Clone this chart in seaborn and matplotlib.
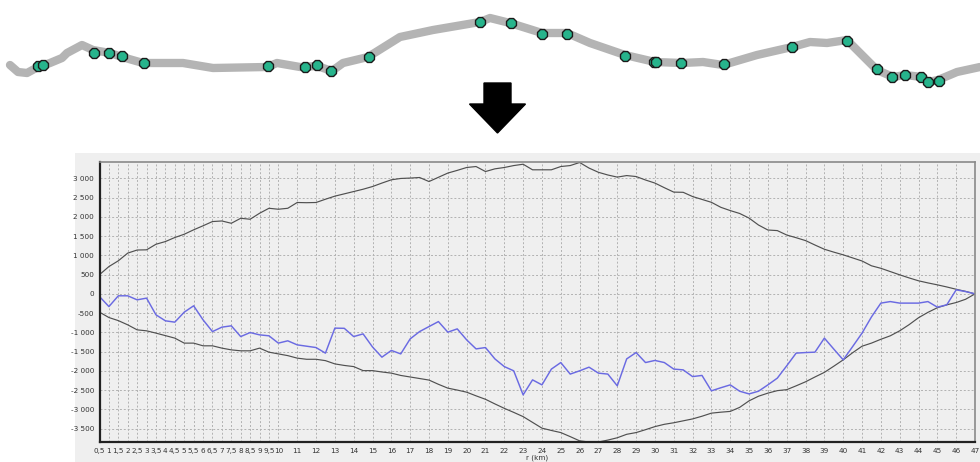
import numpy as np
import pandas as pd
import matplotlib
matplotlib.use("Agg")
import matplotlib.pyplot as plt
from matplotlib.patches import Rectangle, FancyArrow
import seaborn as sns

# ---------------------------------------------------------------- data
# distance along the profile (km)
r_km = [0.5, 1.0, 1.5, 2.0, 2.5, 3.0, 3.5, 4.0, 4.5, 5.0,
        5.5, 6.0, 6.5, 7.0, 7.5, 8.0, 8.5, 9.0, 9.5, 10.0,
        10.5, 11.0, 11.5, 12.0, 12.5, 13.0, 13.5, 14.0, 14.5, 15.0,
        15.5, 16.0, 16.5, 17.0, 17.5, 18.0, 18.5, 19.0, 19.5, 20.0,
        20.5, 21.0, 21.5, 22.0, 22.5, 23.0, 23.5, 24.0, 24.5, 25.0,
        25.5, 26.0, 26.5, 27.0, 27.5, 28.0, 28.5, 29.0, 29.5, 30.0,
        30.5, 31.0, 31.5, 32.0, 32.5, 33.0, 33.5, 34.0, 34.5, 35.0,
        35.5, 36.0, 36.5, 37.0, 37.5, 38.0, 38.5, 39.0, 39.5, 40.0,
        40.5, 41.0, 41.5, 42.0, 42.5, 43.0, 43.5, 44.0, 44.5, 45.0,
        45.5, 46.0, 46.5, 47.0]

# upper envelope
upper_env = [500, 710, 860, 1060, 1140, 1145, 1290, 1360, 1465, 1550,
             1665, 1770, 1880, 1895, 1835, 1965, 1940, 2095, 2225, 2200,
             2225, 2375, 2370, 2375, 2460, 2540, 2600, 2660, 2720, 2790,
             2880, 2965, 3000, 3010, 3025, 2920, 3030, 3140, 3210, 3285,
             3310, 3180, 3250, 3285, 3335, 3370, 3225, 3225, 3225, 3310,
             3335, 3415, 3270, 3160, 3090, 3035, 3075, 3050, 2960, 2880,
             2760, 2645, 2640, 2530, 2455, 2380, 2250, 2165, 2090, 1970,
             1790, 1660, 1645, 1530, 1460, 1385, 1270, 1160, 1085, 1015,
             935, 855, 730, 665, 580, 495, 415, 340, 285, 235,
             180, 120, 65, 0]

# lower envelope
lower_env = [-475, -615, -695, -805, -935, -960, -1020, -1085, -1150, -1280,
             -1280, -1350, -1350, -1410, -1455, -1480, -1480, -1410, -1515, -1560,
             -1605, -1670, -1700, -1700, -1735, -1820, -1860, -1890, -1995, -1995,
             -2030, -2060, -2120, -2160, -2200, -2240, -2350, -2450, -2500, -2555,
             -2650, -2740, -2860, -2975, -3080, -3190, -3340, -3490, -3550, -3605,
             -3710, -3820, -3850, -3850, -3800, -3740, -3650, -3605, -3530, -3450,
             -3390, -3350, -3300, -3250, -3180, -3100, -3075, -3055, -2950, -2780,
             -2660, -2580, -2515, -2490, -2390, -2285, -2160, -2040, -1880, -1715,
             -1530, -1360, -1280, -1180, -1090, -960, -800, -620, -480, -360,
             -285, -225, -140, 0]

# observed profile
observed = [-70, -330, -50, -50, -155, -110, -545, -700, -735, -475,
            -310, -675, -980, -865, -830, -1110, -1005, -1065, -1090, -1280,
            -1220, -1325, -1360, -1395, -1540, -890, -895, -1110, -1040, -1380,
            -1645, -1470, -1560, -1170, -980, -850, -720, -995, -910, -1195,
            -1430, -1395, -1690, -1890, -2000, -2625, -2235, -2365, -1955, -1785,
            -2085, -2000, -1905, -2060, -2085, -2390, -1690, -1525, -1785, -1730,
            -1785, -1955, -1975, -2150, -2120, -2520, -2440, -2365, -2530, -2600,
            -2530, -2365, -2190, -1870, -1540, -1525, -1515, -1150, -1435, -1715,
            -1370, -1020, -600, -240, -200, -240, -240, -240, -200, -345,
            -285, 105, 60, 0]

# axis ticks
x_ticks = [0.5, 1, 1.5, 2, 2.5, 3, 3.5, 4, 4.5, 5, 5.5, 6, 6.5, 7, 7.5,
           8, 8.5, 9, 9.5, 10] + list(range(11, 48))
x_tick_labels = ["0,5", "1", "1,5", "2", "2,5", "3", "3,5", "4", "4,5", "5",
                 "5,5", "6", "6,5", "7", "7,5", "8", "8,5", "9", "9,5", "10"] + \
                [str(v) for v in range(11, 48)]
y_ticks = [3000, 2500, 2000, 1500, 1000, 500, 0, -500, -1000, -1500,
           -2000, -2500, -3000, -3500]
y_tick_labels = ["3 000", "2 500", "2 000", "1 500", "1 000", "500", "0",
                 "-500", "-1 000", "-1 500", "-2 000", "-2 500", "-3 000",
                 "-3 500"]

# route sketch (screen units) and station positions along it
track_x = [10, 18, 27, 38, 50, 62, 67, 82, 93, 110, 122, 143, 157, 183, 213,
           267, 277, 300, 317, 332, 343, 368, 400, 433, 480, 490, 510, 542,
           567, 590, 625, 655, 682, 703, 723, 757, 792, 810, 827, 847, 857,
           877, 893, 905, 922, 928, 938, 957, 980]
track_y = [65, 72, 73, 67, 63, 58, 53, 45, 50, 53, 57, 63, 63, 63, 68,
           67, 63, 67, 66, 71, 63, 57, 37, 30, 22, 18, 23, 33,
           33, 43, 55, 62, 63, 62, 65, 55, 47, 42, 43, 40, 50,
           70, 77, 75, 77, 82, 80, 72, 67]
station_x = [38, 43, 94, 109, 122, 144, 268, 305, 317, 331, 369, 480,
             511, 542, 567, 625, 654, 656, 681, 724, 792, 847, 877, 892,
             905, 921, 928, 939]
station_y = [66, 65, 53, 53, 56, 63, 66, 67, 65, 71, 57, 22,
             23, 34, 34, 56, 62, 62, 63, 64, 47, 41, 69, 77,
             75, 77, 82, 81]

# ---------------------------------------------------------------- figure
sns.set_theme(style="white")
plt.rcParams["font.family"] = ["DejaVu Sans"]

W, H = 980, 462
fig = plt.figure(figsize=(W / 100, H / 100), dpi=100)
fig.patch.set_facecolor("white")

# grey panel behind the chart
fig.patches.append(Rectangle((75 / W, 0), (W - 75) / W, (H - 153) / H,
                             transform=fig.transFigure, facecolor="#efefef",
                             edgecolor="none", zorder=-5))

# --- route sketch with stations
ax_map = fig.add_axes([0, 1 - 150 / H, 1, 150 / H])
ax_map.set_xlim(0, W)
ax_map.set_ylim(150, 0)
ax_map.axis("off")
track = pd.DataFrame({"x": track_x, "y": track_y})
sns.lineplot(data=track, x="x", y="y", ax=ax_map, sort=False,
             color="#b4b4b4", linewidth=6.0, solid_capstyle="round",
             solid_joinstyle="round")
stations = pd.DataFrame({"x": station_x, "y": station_y})
sns.scatterplot(data=stations, x="x", y="y", ax=ax_map, marker="8", s=60,
                color="#27b48c", edgecolor="#1a1a1a", linewidth=1.0,
                zorder=3)
ax_map.add_patch(FancyArrow(497.5, 83, 0, 50, width=27, head_width=56,
                            head_length=29, length_includes_head=True,
                            color="black"))
ax_map.set_xlabel("")
ax_map.set_ylabel("")

# --- envelope chart
ax = fig.add_axes([99.5 / W, (H - 442) / H, (975 - 99.5) / W, (442 - 162.3) / H])
ax.set_zorder(2)
ax.set_facecolor("#efefef")
df = pd.DataFrame({
    "r": r_km * 3,
    "value": upper_env + lower_env + observed,
    "series": ["upper"] * len(r_km) + ["lower"] * len(r_km) + ["observed"] * len(r_km),
})
sns.lineplot(data=df[df.series != "observed"], x="r", y="value", hue="series",
             palette={"upper": "#505050", "lower": "#505050"},
             linewidth=0.85, legend=False, ax=ax, sort=False)
sns.lineplot(data=df[df.series == "observed"], x="r", y="value",
             color="#6a6ae2", linewidth=1.05, legend=False, ax=ax, sort=False)

ax.set_xlim(0.5, 47)
ax.set_ylim(-3850, 3420)
ax.set_xticks(x_ticks)
ax.set_xticklabels(x_tick_labels, fontsize=5.2, color="#333333")
ax.set_yticks(y_ticks)
ax.set_yticklabels(y_tick_labels, fontsize=5.2, color="#333333")
ax.tick_params(axis="both", length=0, pad=4)
ax.grid(True, color="#b2b2b2", linestyle=(0, (2, 2)), linewidth=0.7)
ax.set_axisbelow(True)
ax.set_xlabel("r (km)", fontsize=5.2, color="#333333", labelpad=1)
ax.set_ylabel("")

for side in ("left", "bottom"):
    ax.spines[side].set_color("#222222")
    ax.spines[side].set_linewidth(1.6)
for side in ("top", "right"):
    ax.spines[side].set_color("#8a8a8a")
    ax.spines[side].set_linewidth(1.2)

fig.savefig("out.png", dpi=100)
